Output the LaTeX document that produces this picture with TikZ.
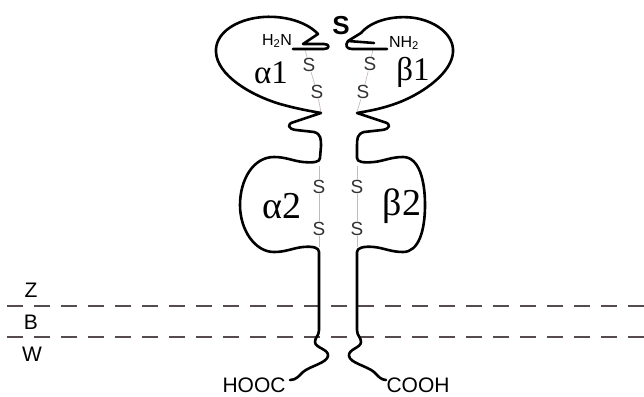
\documentclass[tikz,border=0pt]{standalone}
\usepackage{fontspec}
\setmainfont{Liberation Serif}
\newfontfamily\labelsans{Liberation Sans}
\definecolor{memgray}{RGB}{85,75,80}
\definecolor{bondgray}{RGB}{200,185,185}
\begin{document}
\begin{tikzpicture}[x=1pt,y=-1pt,
  chain/.style={line width=2.6pt,line join=round,line cap=round},
  membrane/.style={line width=1.8pt,color=memgray,dash pattern=on 16pt off 11pt},
  bond/.style={line width=0.7pt,color=bondgray},
  sulfur/.style={font=\labelsans\fontsize{19}{19}\selectfont,text=black!80,inner sep=0.3pt},
  domlabel/.style={font=\fontsize{33}{33}\selectfont,inner sep=0pt},
  bigdomlabel/.style={font=\fontsize{38}{38}\selectfont,inner sep=0pt},
  term/.style={font=\labelsans\fontsize{21}{21}\selectfont,inner sep=0pt,text depth=0pt},
  layer/.style={font=\labelsans\fontsize{21}{21}\selectfont,inner sep=0pt},
  amino/.style={font=\labelsans\fontsize{16}{16}\selectfont,inner sep=0pt}]
\useasboundingbox (0,0) rectangle (644,396);

% membrane boundaries and layer labels
\coordinate (m1a) at (7,306);  \coordinate (m1b) at (644,306);
\coordinate (m2a) at (7,337);  \coordinate (m2b) at (644,337);
\draw[membrane] (m1a) -- (m1b);
\draw[membrane] (m2a) -- (m2b);
\node[layer] (lz) at (31,290) {Z};
\node[layer] (lb) at (31,322) {B};
\node[layer] (lw) at (32,354) {W};

% disulfide bridges
\node[sulfur] (sa1) at (309,65) {S};
\node[sulfur] (sa2) at (317,92) {S};
\coordinate (ba0) at (305,49); \coordinate (ba3) at (321,112);
\draw[bond] (ba0) -- (sa1) -- (sa2) -- (ba3);
\node[sulfur] (sb1) at (370,64) {S};
\node[sulfur] (sb2) at (363,92) {S};
\coordinate (bb0) at (373,49); \coordinate (bb3) at (357,112);
\draw[bond] (bb0) -- (sb1) -- (sb2) -- (bb3);
\node[sulfur] (sc1) at (319,187) {S};
\node[sulfur] (sc2) at (319,229) {S};
\coordinate (bc0) at (319,166); \coordinate (bc3) at (319,247);
\draw[bond] (bc0) -- (sc1) -- (sc2) -- (bc3);
\node[sulfur] (sd1) at (357,187) {S};
\node[sulfur] (sd2) at (357,229) {S};
\coordinate (bd0) at (357,166); \coordinate (bd3) at (357,247);
\draw[bond] (bd0) -- (sd1) -- (sd2) -- (bd3);

% alpha chain
\draw[chain] (293,49) -- (324,49) .. controls (330,49) and (330,44) .. (324,44) -- (303,44) -- (318,34)
  .. controls (305,20) and (278,14) .. (255,18) .. controls (232,22) and (215,35) .. (216,52)
  .. controls (217,75) and (250,95) .. (280,104) .. controls (298,109) and (310,111) .. (321,113)
  -- (294,122) .. controls (286,124) and (288,129) .. (296,130) -- (314,132)
  .. controls (321,134) and (321,139) .. (321,146) -- (320,158)
  .. controls (320,162) and (314,163) .. (303,162) .. controls (293,161) and (286,157) .. (274,157)
  .. controls (253,157) and (240,180) .. (240,205) .. controls (240,230) and (255,252) .. (274,252)
  .. controls (286,252) and (293,248) .. (303,247) .. controls (314,246) and (319,248) .. (319,252)
  -- (319,330) .. controls (319,336) and (315,337) .. (315,342)
  .. controls (315,348) and (329,349) .. (328,356) .. controls (327,363) and (310,366) .. (303,372)
  .. controls (299,376) and (296,380) .. (290,380);

% beta chain
\draw[chain] (374,43) -- (348,41) -- (361,33)
  .. controls (372,20) and (395,15) .. (415,18) .. controls (438,22) and (454,36) .. (453,52)
  .. controls (452,72) and (425,92) .. (400,102) .. controls (382,109) and (368,111) .. (357,113)
  -- (384,122) .. controls (392,124) and (390,129) .. (382,130) -- (364,132)
  .. controls (357,134) and (357,139) .. (357,146) -- (357,158)
  .. controls (357,162) and (363,163) .. (374,162) .. controls (384,161) and (391,157) .. (403,157)
  .. controls (419,157) and (425,180) .. (425,205) .. controls (425,230) and (419,252) .. (403,252)
  .. controls (391,252) and (384,248) .. (374,247) .. controls (363,246) and (357,248) .. (357,252)
  -- (357,330) .. controls (357,336) and (361,337) .. (361,342)
  .. controls (361,348) and (348,349) .. (349,356) .. controls (350,363) and (367,366) .. (374,372)
  .. controls (378,376) and (381,380) .. (386,380);
\draw[chain] (348,41) .. controls (345,45) and (346,49) .. (352,49) -- (387,49);

% inter-chain disulfide
\node[font=\labelsans\bfseries\fontsize{26}{26}\selectfont,inner sep=0pt] (topS) at (341,26) {S};

% termini
\node[amino] (nta) at (277,41) {H\textsubscript{2}N};
\node[amino] (ntb) at (404,43) {NH\textsubscript{2}};
\node[term] (cta) at (254,385) {HOOC};
\node[term] (ctb) at (418,385) {COOH};

% domain labels
\node[domlabel] (da1) at (271,73) {α1};
\node[domlabel] (db1) at (413,72) {β1};
\node[bigdomlabel] (da2) at (282,206) {α2};
\node[bigdomlabel] (db2) at (402,206) {β2};
\end{tikzpicture}
\end{document}
